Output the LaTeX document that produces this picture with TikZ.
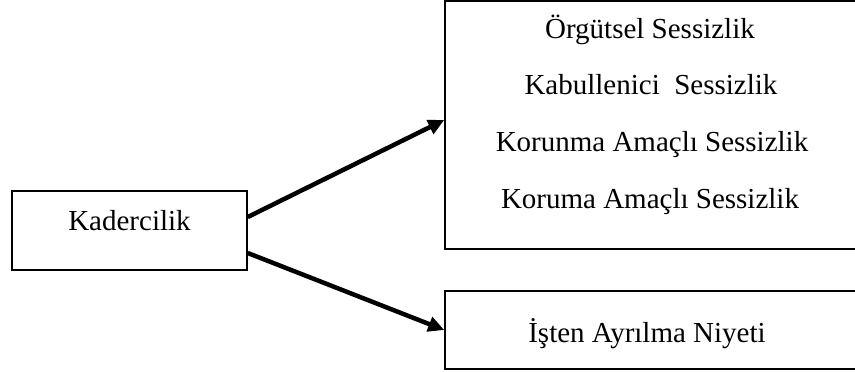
\documentclass[tikz,border=0pt]{standalone}
\usepackage{fontspec}
\setmainfont{Liberation Serif}
\usetikzlibrary{arrows.meta}
\begin{document}
\begin{tikzpicture}[x=1pt,y=-1pt,
  boxstyle/.style={draw=black,line width=1.5pt,inner sep=0pt},
  txt/.style={anchor=base,inner sep=0pt,font=\fontsize{29}{35}\selectfont},
  arr/.style={line width=4.5pt,-{Triangle[length=16pt,width=15pt]}}]
\useasboundingbox (0,0) rectangle (855,372);
\clip (0,0) rectangle (855,372);
\fill[white] (0,0) rectangle (855,372);
% boxes
\node[boxstyle,minimum width=235pt,minimum height=79pt] (kad) at (129.5,230.5) {};
\node[boxstyle,minimum width=411pt,minimum height=248pt] (sess) at (650.5,125) {};
\node[boxstyle,minimum width=411pt,minimum height=78pt] (niy) at (650.5,330) {};
% texts
\node[txt] (t0) at (129.5,230) {Kadercilik};
\node[txt] (t1) at (650,38) {Örgütsel Sessizlik};
\node[txt] (t2) at (651,94.5) {Kabullenici\ \ Sessizlik};
\node[txt] (t3) at (652,151) {Korunma Amaçlı Sessizlik};
\node[txt] (t4) at (650,208) {Koruma Amaçlı Sessizlik};
\node[txt] (t5) at (647,342) {İşten Ayrılma Niyeti};
% arrows
\draw[arr] ([yshift=13.5pt]kad.east) -- ([yshift=5pt]sess.west);
\draw[arr] ([yshift=-22.5pt]kad.east) -- (niy.west);
\end{tikzpicture}
\end{document}
